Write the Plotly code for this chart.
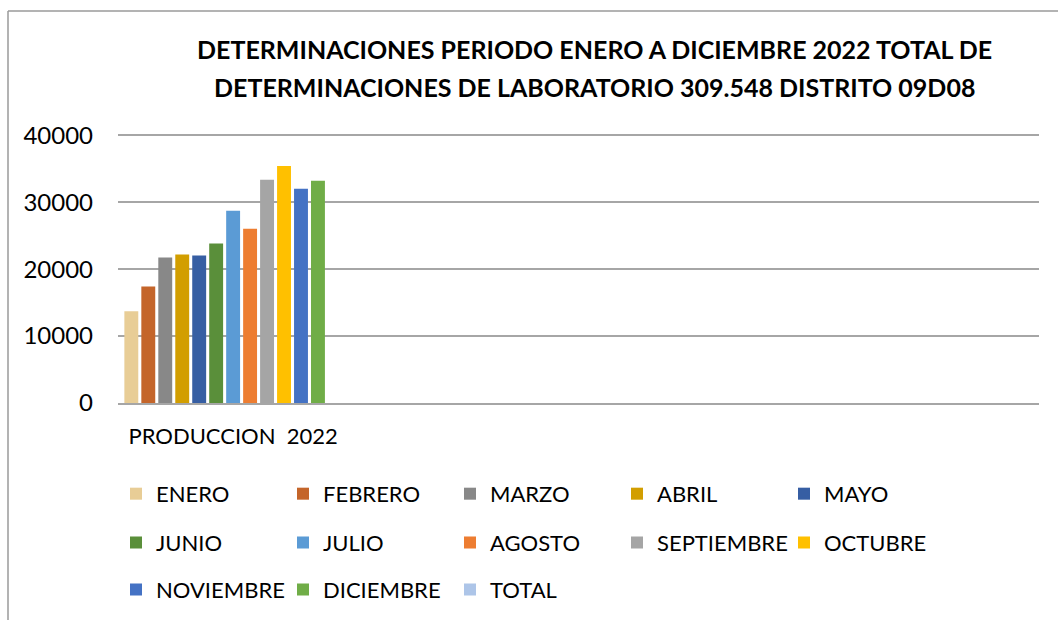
import plotly.graph_objects as go

categories = ["PRODUCCION  2022"]
months = ["ENERO", "FEBRERO", "MARZO", "ABRIL", "MAYO", "JUNIO", "JULIO",
          "AGOSTO", "SEPTIEMBRE", "OCTUBRE", "NOVIEMBRE", "DICIEMBRE", "TOTAL"]
values = [13700, 17420, 21740, 22180, 22030, 23820, 28730,
          26050, 33350, 35430, 32010, 33200, None]
colors = ["#E8CD96", "#C4652A", "#888888", "#D29E00", "#365EA3", "#5A8F3A", "#5B9BD5",
          "#ED7D31", "#A5A5A5", "#FFC000", "#4472C4", "#70AD47", "#ADC5E8"]
legend_rows = ["legend"] * 5 + ["legend2"] * 5 + ["legend3"] * 3
y_ticks = [0, 10000, 20000, 30000, 40000]
y_top = 40200

FONT = "Lato"
W, H = 1058, 622
L, R, B = 118, 1039, 404
T = B - (B - 135) * y_top / 40000.0


def px_x(px):
    return (px - L) / (R - L)


def px_y(py):
    return (B - py) / (B - T)


fig = go.Figure()
for m, v, c, lg in zip(months, values, colors, legend_rows):
    fig.add_trace(go.Bar(x=categories, y=[v], name=m, marker=dict(color=c, line=dict(width=0)),
                         legend=lg))

leg_common = dict(orientation="h", xanchor="left", yanchor="middle",
                  font=dict(family=FONT, size=22, color="#000000"),
                  entrywidth=122, entrywidthmode="pixels",
                  bgcolor="rgba(0,0,0,0)", borderwidth=0, itemclick=False)

fig.update_layout(
    width=W, height=H,
    margin=dict(l=L, r=W - R, t=T, b=H - B, pad=0),
    paper_bgcolor="white", plot_bgcolor="white",
    barmode="group", bargap=0.042, bargroupgap=0.18,
    font=dict(family=FONT, size=22, color="#000000"),
    xaxis=dict(type="category", categoryorder="array", categoryarray=categories,
               range=[-0.5, 3.5], showgrid=False, showline=True, linecolor="#A6A6A6",
               linewidth=1.5, ticks="", ticklabelstandoff=13,
               tickfont=dict(family=FONT, size=22)),
    yaxis=dict(range=[0, y_top], tickvals=y_ticks, ticktext=[str(t) for t in y_ticks],
               showgrid=True, gridcolor="#A6A6A6", gridwidth=1.5, zeroline=False,
               showline=False, ticks="", ticklabelstandoff=24,
               tickfont=dict(family=FONT, size=24)),
    legend=dict(x=px_x(116), y=px_y(494), **leg_common),
    legend2=dict(x=px_x(116), y=px_y(543), **leg_common),
    legend3=dict(x=px_x(116), y=px_y(590), **leg_common),
    showlegend=True,
)

fig.add_annotation(text="<b>DETERMINACIONES PERIODO ENERO A DICIEMBRE 2022 TOTAL DE</b>",
                   xref="paper", yref="paper", x=px_x(594), y=px_y(48),
                   xanchor="center", yanchor="middle", showarrow=False,
                   font=dict(family=FONT, size=25, color="#000000"))
fig.add_annotation(text="<b>DETERMINACIONES DE LABORATORIO 309.548 DISTRITO 09D08</b>",
                   xref="paper", yref="paper", x=px_x(594), y=px_y(86),
                   xanchor="center", yanchor="middle", showarrow=False,
                   font=dict(family=FONT, size=25, color="#000000"))

# chart area border (top and left)
fig.add_shape(type="line", xref="paper", yref="paper", x0=px_x(8), x1=px_x(1058),
              y0=px_y(10), y1=px_y(10), line=dict(color="#9A9A9A", width=1.5))
fig.add_shape(type="line", xref="paper", yref="paper", x0=px_x(8), x1=px_x(8),
              y0=px_y(10), y1=px_y(622), line=dict(color="#9A9A9A", width=1.5))

fig.write_html("out.html", config={"displayModeBar": False},
               post_script="document.body.style.margin='0';")
